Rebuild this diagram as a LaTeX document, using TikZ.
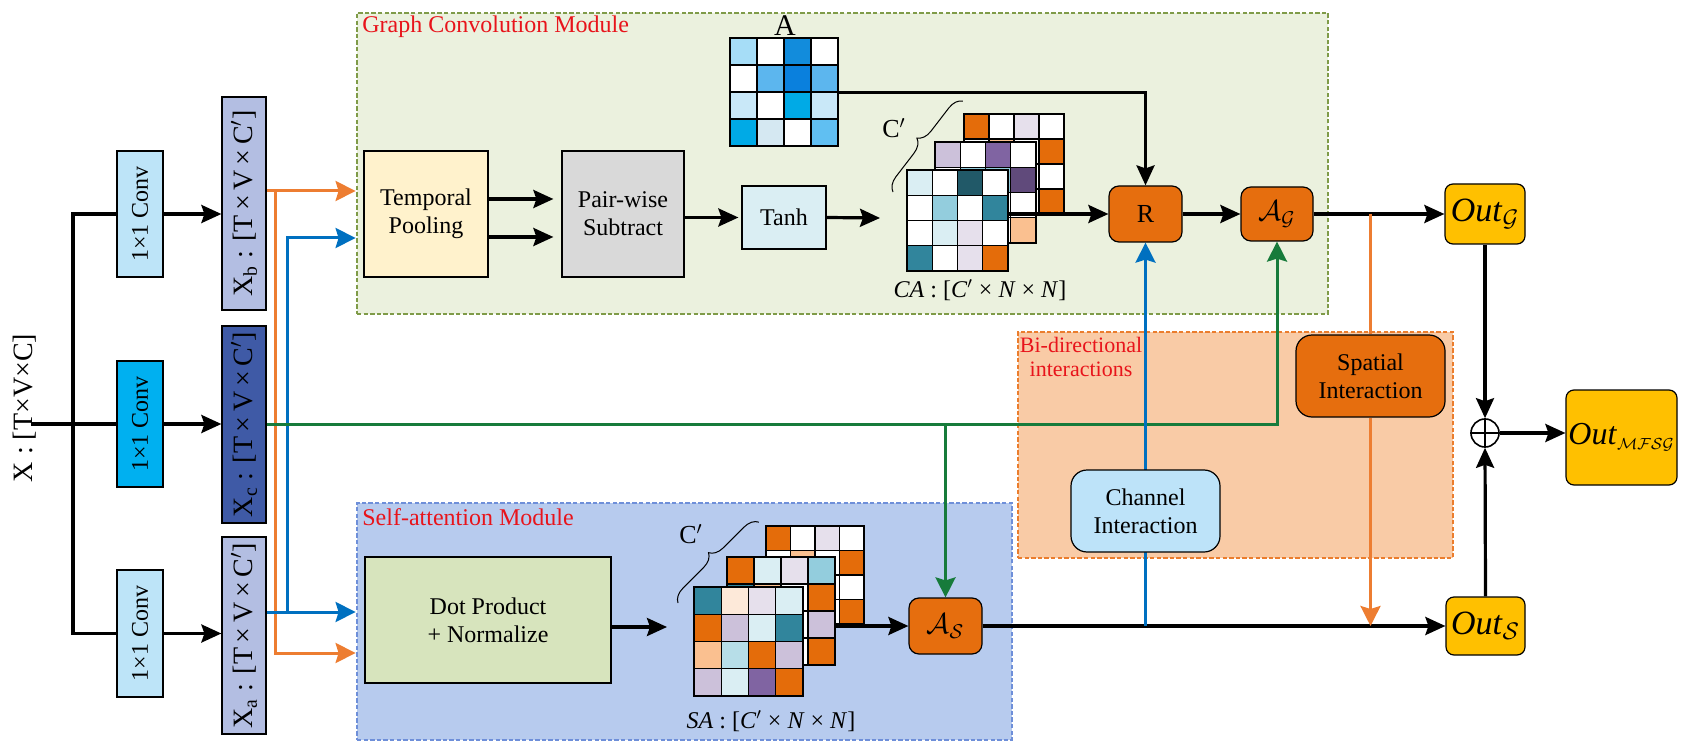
\documentclass[tikz,border=0pt]{standalone}
\usepackage{fontspec}
\setmainfont{Liberation Serif}
\usetikzlibrary{arrows.meta,decorations.pathreplacing,calc}
\definecolor{gcmfill}{HTML}{EBF1DE}
\definecolor{gcmdraw}{HTML}{7F9B48}
\definecolor{samfill}{HTML}{B7CBEE}
\definecolor{samdraw}{HTML}{6E8FD9}
\definecolor{bifill}{HTML}{F9CBA6}
\definecolor{bidraw}{HTML}{EB7D2D}
\definecolor{orng}{HTML}{E66E0E}
\definecolor{chfill}{HTML}{BDE3F9}
\definecolor{outfill}{HTML}{FFC000}
\definecolor{xfill}{HTML}{B3BEE2}
\definecolor{xcfill}{HTML}{3F5AA6}
\definecolor{convl}{HTML}{BDE4F8}
\definecolor{convd}{HTML}{00B0F0}
\definecolor{tempfill}{HTML}{FFF2CC}
\definecolor{pairfill}{HTML}{D9D9D9}
\definecolor{tanhfill}{HTML}{DAEEF3}
\definecolor{dotfill}{HTML}{D7E4BD}
\definecolor{lgreen}{HTML}{177B3B}
\definecolor{lblue}{HTML}{0070C0}
\definecolor{lorange}{HTML}{ED7D31}
\definecolor{titred}{HTML}{E8141B}
\definecolor{cW}{HTML}{FFFFFF}
\definecolor{cLB}{HTML}{DAEEF3}
\definecolor{cLT}{HTML}{93CDDD}
\definecolor{cLTb}{HTML}{B7DEE8}
\definecolor{cT}{HTML}{31859C}
\definecolor{cDT}{HTML}{215968}
\definecolor{cLL}{HTML}{E6E0EC}
\definecolor{cL}{HTML}{CCC1DA}
\definecolor{cP}{HTML}{8064A2}
\definecolor{cDP}{HTML}{604A7B}
\definecolor{cO}{HTML}{E46C0A}
\definecolor{cPe}{HTML}{FAC090}
\definecolor{cLPe}{HTML}{FDE9D9}
\definecolor{cAa}{HTML}{A6DDF7}
\definecolor{cAb}{HTML}{5CB6EE}
\definecolor{cAc}{HTML}{128CDC}
\definecolor{cAd}{HTML}{0A80DD}
\definecolor{cAe}{HTML}{00AAE6}
\definecolor{cAf}{HTML}{C9E8F8}
\definecolor{cAg}{HTML}{D5E8F2}
\definecolor{cAh}{HTML}{60BFF2}
\pgfdeclarelayer{bg}
\pgfdeclarelayer{lines}
\pgfsetlayers{bg,lines,main}
\tikzset{
  bx/.style={draw=black, line width=0.6pt, inner sep=0pt, align=center, font=\fontsize{12}{14}\selectfont},
  rbx/.style={bx, rounded corners=5pt},
  outbx/.style={rbx, fill=outfill, rounded corners=4pt, font=\fontsize{17}{19}\selectfont},
  modbox/.style={line width=1.4pt, dash pattern=on 2.2pt off 1.1pt, inner sep=0pt},
  modtitle/.style={text=titred, font=\fontsize{12}{14}\selectfont, inner sep=0pt},
  bline/.style={line width=1.6pt, black},
  barr/.style={bline, -{Stealth[length=10pt,width=9pt,inset=1.5pt]}},
  cline/.style={line width=1.5pt, color=#1},
  carr/.style={line width=1.5pt, color=#1, -{Stealth[length=10pt,width=10pt,inset=1.5pt]}},
  lbl/.style={inner sep=0pt, font=\fontsize{12}{14}\selectfont},
}
\newcommand\pbox[7]{\node[#1, minimum width={(#4-#2)*0.5pt}, minimum height={(#5-#3)*0.5pt}] (#6) at ({(#2+#4)/2},{(#3+#5)/2}) {#7};}
\newcommand\cellgrid[4]{%
  \foreach \cc [count=\k from 0] in {#4}{%
    \pgfmathtruncatemacro\mrow{div(\k,4)}%
    \pgfmathtruncatemacro\mcol{mod(\k,4)}%
    \filldraw[fill=\cc, draw=black, line width=0.6pt] ({#1+\mcol*#3},{#2+\mrow*#3}) rectangle ++(#3,#3);
  }}
\begin{document}
\begin{tikzpicture}[x=0.5pt,y=-0.5pt]
\useasboundingbox (0,0) rectangle (1684,753);
\begin{pgfonlayer}{bg}
\pbox{modbox, fill=gcmfill, draw=gcmdraw}{357}{13}{1328}{314}{gcm}{}
\pbox{modbox, fill=samfill, draw=samdraw}{357}{503}{1012}{740}{sam}{}
\pbox{modbox, fill=bifill, draw=bidraw}{1018}{332}{1453}{558}{bi}{}
\end{pgfonlayer}
\node[modtitle, anchor=base west] (gcmt) at (362,33) {Graph Convolution Module};
\node[modtitle, anchor=base west] (samt) at (362,525) {Self-attention Module};
\node[modtitle, anchor=north, align=center, font=\fontsize{11}{12}\selectfont] (bit) at (1081,337) {Bi-directional\\interactions};
% left part
\node[rotate=90, inner sep=0pt, font=\fontsize{14}{16}\selectfont] (xlab) at (25,408) {X : [T×V×C]};
\coordinate (xin) at (31,424);
\coordinate (tr) at (73,424);
\pbox{bx, fill=convl}{117}{151}{163}{277}{conv1}{\rotatebox{90}{1×1 Conv}}
\pbox{bx, fill=convd}{117}{361}{163}{487}{conv2}{\rotatebox{90}{1×1 Conv}}
\pbox{bx, fill=convl}{117}{570}{163}{697}{conv3}{\rotatebox{90}{1×1 Conv}}
\pbox{bx, fill=xfill, font=\fontsize{14}{16}\selectfont}{222}{97}{266}{310}{Xb}{\rotatebox{90}{X\textsubscript{b} : [T\,×\,V\,×\,C$'$]}}
\pbox{bx, fill=xcfill, font=\fontsize{14}{16}\selectfont}{222}{326}{266}{523}{Xc}{\rotatebox{90}{X\textsubscript{c} : [T\,×\,V\,×\,C$'$]}}
\pbox{bx, fill=xfill, font=\fontsize{14}{16}\selectfont}{222}{537}{266}{734}{Xa}{\rotatebox{90}{X\textsubscript{a} : [T\,×\,V\,×\,C$'$]}}
% graph conv module
\pbox{bx, fill=tempfill}{364}{151}{488}{277}{temporal}{Temporal\\Pooling}
\pbox{bx, fill=pairfill}{562}{151}{684}{277}{pairwise}{Pair-wise\\Subtract}
\pbox{bx, fill=tanhfill}{742}{186}{826}{249}{tanh}{Tanh}
\cellgrid{730}{38}{27}{cAa,cW,cAc,cW,cW,cAb,cAd,cAb,cAf,cW,cAe,cAf,cAe,cAg,cW,cAh}
\node[inner sep=0pt, minimum size=54pt, anchor=north west] (Amat) at (730,38) {};
\node[inner sep=0pt, anchor=base, font=\fontsize{15}{17}\selectfont] (Alab) at (785,36) {A};
\cellgrid{964}{114}{25}{cO,cW,cLL,cW,cW,cPe,cW,cO,cW,cW,cW,cW,cW,cW,cW,cO}
\node[inner sep=0pt, minimum size=50pt, anchor=north west] (CAb) at (964,114) {};
\cellgrid{935}{142}{25.25}{cL,cW,cP,cW,cW,cLT,cLT,cDP,cW,cW,cW,cW,cW,cW,cW,cPe}
\node[inner sep=0pt, minimum size=50.5pt, anchor=north west] (CAm) at (935,142) {};
\cellgrid{907}{170}{25.25}{cLB,cW,cDT,cW,cW,cLT,cW,cT,cW,cLB,cLL,cW,cT,cW,cLL,cO}
\node[inner sep=0pt, minimum size=50.5pt, anchor=north west] (CAf) at (907,170) {};
\draw[line width=0.5pt, decorate, decoration={brace, amplitude=7pt}] (893,192) -- (963,101);
\node[lbl, font=\fontsize{13}{15}\selectfont] (cac) at (894,128) {C$'$};
\node[lbl] (calab) at (980,290) {\textit{CA} : [\textit{C}$'$ × \textit{N} × \textit{N}]};
\coordinate (caend) at (880,218);
\pbox{rbx, fill=orng, font=\fontsize{13}{15}\selectfont}{1109}{186}{1182}{242}{R}{R}
\pbox{rbx, fill=orng, font=\fontsize{14}{16}\selectfont}{1241}{187}{1313}{241}{AG}{$\mathcal{A}_{\mathcal{G}}$}
% right part
\pbox{outbx}{1445}{184}{1525}{244}{OutG}{\textit{Out}$_{\mathcal{G}}$}
\pbox{rbx, fill=orng, rounded corners=8pt}{1296}{335}{1445}{417}{spatial}{Spatial\\Interaction}
\pbox{rbx, fill=chfill, rounded corners=8pt}{1071}{470}{1220}{552}{channel}{Channel\\Interaction}
\node[circle, draw, line width=0.8pt, minimum size=14pt, inner sep=0pt] (plus) at (1485,433) {};
\draw[line width=0.8pt] (plus.north) -- (plus.south) (plus.west) -- (plus.east);
\pbox{outbx, font=\fontsize{16}{18}\selectfont}{1566}{390}{1677}{485}{OutM}{\textit{Out}$_{\scriptscriptstyle\mathcal{MFSG}}$}
\pbox{outbx}{1446}{597}{1525}{655}{OutS}{\textit{Out}$_{\mathcal{S}}$}
% self-attention module
\pbox{bx, fill=dotfill}{365}{557}{611}{683}{dot}{Dot Product\\+ Normalize}
\coordinate (saend) at (667,627);
\cellgrid{766}{526}{24.5}{cO,cW,cLL,cW,cW,cPe,cW,cO,cW,cW,cW,cW,cW,cW,cW,cO}
\node[inner sep=0pt, minimum size=49pt, anchor=north west] (SAb) at (766,526) {};
\cellgrid{727}{557}{27}{cO,cLB,cLL,cLT,cT,cPe,cW,cO,cW,cW,cW,cL,cW,cW,cW,cO}
\node[inner sep=0pt, minimum size=54pt, anchor=north west] (SAm) at (727,557) {};
\cellgrid{694}{587}{27.25}{cT,cLPe,cLL,cLB,cO,cL,cLB,cT,cPe,cLTb,cO,cL,cL,cLB,cP,cO}
\node[inner sep=0pt, minimum size=54.5pt, anchor=north west] (SAf) at (694,587) {};
\draw[line width=0.5pt, decorate, decoration={brace, amplitude=7pt}] (678,603) -- (759,522);
\node[lbl, font=\fontsize{13}{15}\selectfont] (sac) at (691,534) {C$'$};
\node[lbl] (salab) at (771,721) {\textit{SA} : [\textit{C}$'$ × \textit{N} × \textit{N}]};
\pbox{rbx, fill=orng, font=\fontsize{14}{16}\selectfont}{909}{598}{982}{654}{AS}{$\mathcal{A}_{\mathcal{S}}$}
% connectors
\coordinate (o1) at (275,191);
\coordinate (o2) at (275,653);
\coordinate (b1) at (287,612);
\coordinate (b2) at (287,238);
\begin{pgfonlayer}{lines}
\draw[bline] (xin) -- (xin -| conv2.west);
\draw[bline] (conv1.west) -| (tr) |- (conv3.west);
\draw[barr] (conv1.east) -- (conv1.east -| Xb.west);
\draw[barr] (conv2.east) -- (conv2.east -| Xc.west);
\draw[barr] (conv3.east) -- (conv3.east -| Xa.west);
\draw[carr=lorange] (Xb.east |- o1) -- (gcm.west |- o1);
\draw[carr=lorange] (o1) |- (sam.west |- o2);
\draw[carr=lblue] (Xa.east |- b1) -- (sam.west |- b1);
\draw[carr=lblue] (b1) |- (gcm.west |- b2);
\draw[carr=lgreen] (Xc.east) -| (AG.south);
\draw[carr=lgreen] (AS.north |- Xc.east) -- (AS.north);
\draw[barr] ($(temporal.east)+(0,-15)$) -- ($(temporal.east -| pairwise.west)+(-8,-15)$);
\draw[barr] ($(temporal.east)+(0,23)$) -- ($(temporal.east -| pairwise.west)+(-8,23)$);
\draw[barr] (pairwise.east |- tanh.west) -- ($(tanh.west)+(-3,0)$);
\draw[barr] (tanh.east) -- (caend);
\draw[barr] (Amat.east) -| (R.north);
\draw[barr] (R.east) -- (AG.west);
\draw[barr] (AG.east) -- (OutG.west);
\draw[barr] (dot.east |- saend) -- (saend);
\draw[barr] (AS.east) -- (OutS.west);
\draw[barr] (OutG.south) -- (plus.north);
\draw[barr] (OutS.north) -- (plus.south);
\draw[barr] (plus.east) -- (plus.east -| OutM.west);
\draw[carr=lblue] (R.south |- AS.east) -- (R.south);
\draw[cline=lorange] (spatial.north |- AG.east) -- (spatial.north);
\draw[carr=lorange] (spatial.south) -- (spatial.south |- OutS.west);
\end{pgfonlayer}
\draw[barr] (CAf.east |- R.west) -- (R.west);
\draw[barr] (SAm.east |- AS.west) -- (AS.west);
\end{tikzpicture}
\end{document}
